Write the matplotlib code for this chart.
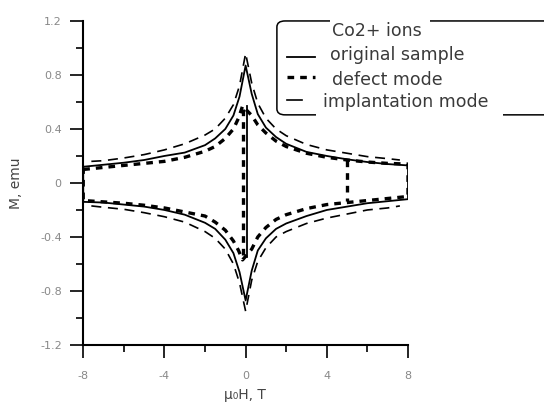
import numpy as np
import matplotlib
matplotlib.use("Agg")
import matplotlib.pyplot as plt
from matplotlib.patches import FancyBboxPatch, Rectangle
from matplotlib.lines import Line2D

# --- data (H in T, M in emu) ---
H = [-8, -7, -6, -5, -4, -3, -2, -1.5, -1, -0.6, -0.3, 0,
     0.3, 0.6, 1, 1.5, 2, 3, 4, 5, 6, 7, 8]

orig_up = [0.12, 0.135, 0.15, 0.17, 0.20, 0.225, 0.28, 0.33, 0.40, 0.50, 0.64, 0.87,
           0.66, 0.51, 0.41, 0.34, 0.29, 0.23, 0.20, 0.175, 0.155, 0.14, 0.13]
orig_lo = [-0.14, -0.145, -0.16, -0.175, -0.20, -0.235, -0.295, -0.34, -0.42, -0.52, -0.66, -0.87,
           -0.65, -0.50, -0.41, -0.34, -0.30, -0.245, -0.20, -0.175, -0.15, -0.135, -0.12]

defect_H = [-8, -7, -6, -5, -4, -3, -2, -1.5, -1, -0.6, -0.35, -0.15,
            0.3, 0.6, 1, 1.5, 2, 3, 4, 5, 6, 7, 8]
defect_up = [0.10, 0.115, 0.13, 0.145, 0.16, 0.19, 0.235, 0.27, 0.33, 0.40, 0.48, 0.57,
             0.50, 0.43, 0.37, 0.31, 0.27, 0.22, 0.19, 0.17, 0.155, 0.145, 0.14]
defect_lo = [-0.13, -0.14, -0.15, -0.165, -0.185, -0.215, -0.245, -0.29, -0.35, -0.43, -0.50, -0.57,
             -0.49, -0.40, -0.33, -0.27, -0.235, -0.19, -0.16, -0.145, -0.13, -0.115, -0.10]

impl_H = [-7.6, -7, -6, -5, -4, -3, -2, -1.5, -1, -0.6, -0.3, 0,
          0.3, 0.6, 1, 1.5, 2, 3, 4, 5, 6, 7, 7.6]
impl_up = [0.16, 0.165, 0.185, 0.21, 0.245, 0.29, 0.355, 0.40, 0.48, 0.58, 0.72, 0.96,
           0.74, 0.59, 0.48, 0.40, 0.35, 0.285, 0.245, 0.22, 0.195, 0.18, 0.17]
impl_lo = [-0.17, -0.18, -0.195, -0.22, -0.25, -0.29, -0.36, -0.41, -0.49, -0.60, -0.74, -0.95,
           -0.72, -0.58, -0.48, -0.40, -0.36, -0.30, -0.26, -0.23, -0.20, -0.185, -0.17]

# switching jumps (H, M_top, M_bottom)
orig_jump = (0.05, 0.57, -0.55)
defect_jumps = [(-0.15, 0.55, -0.57), (5.0, 0.17, -0.13)]

XTICKS = [-8, -4, 0, 4, 8]
YTICKS = [-1.2, -0.8, -0.4, 0, 0.4, 0.8, 1.2]
LABELS = ["original sample", "defect mode", "implantation mode"]

SOLID = dict(color="black", lw=1.3, ls="-")
DASH = dict(color="black", lw=2.4, ls=(0, (2.0, 1.8)))
LONG = dict(color="black", lw=1.2, ls=(0, (6, 4)))

fig = plt.figure(figsize=(5.44, 4.03), dpi=100)
ax = fig.add_axes([0.153, 0.144, 0.597, 0.804])

def loop(hx, up, lo, style, closed=True):
    hx = np.asarray(hx)
    if closed:
        xs = np.r_[hx, hx[::-1], hx[:1]]
        ys = np.r_[up, lo[::-1], up[:1]]
        ax.plot(xs, ys, **style)
    else:
        ax.plot(hx, up, **style)
        ax.plot(hx, lo, **style)

loop(H, orig_up, orig_lo, SOLID)
loop(defect_H, defect_up, defect_lo, DASH)
loop(impl_H, impl_up, impl_lo, LONG, closed=False)

ax.plot([orig_jump[0]] * 2, orig_jump[1:], **SOLID)
for h, top, bot in defect_jumps:
    ax.plot([h, h], [top, bot], **DASH)

ax.set_xlim(-8, 8)
ax.set_ylim(-1.2, 1.2)
ax.set_xticks(XTICKS)
ax.set_xticks([-6, -2, 2, 6], minor=True)
ax.set_yticks(YTICKS)
ax.set_yticks([-1.0, -0.6, -0.2, 0.2, 0.6, 1.0], minor=True)
ax.set_xticklabels([str(t) for t in XTICKS])
ax.set_yticklabels(["-1.2", "-0.8", "-0.4", "0", "0.4", "0.8", "1.2"])

for s in ["top", "right"]:
    ax.spines[s].set_visible(False)
for s in ["left", "bottom"]:
    ax.spines[s].set_linewidth(1.5)
ax.tick_params(which="major", direction="out", length=9.5, width=1.2,
               labelsize=8, labelcolor="#888888", pad=6)
ax.tick_params(axis="x", which="major", pad=9)
ax.tick_params(which="minor", direction="out", length=5, width=1.2)

fig.text(0.03, 0.545, "M, emu", rotation=90, ha="center", va="center",
         fontsize=10, color="#444444")
fig.text(0.451, 0.02, "μ₀H, T", ha="center", va="center",
         fontsize=10, color="#444444")

# legend box drawn by hand (rounded frame running off the right edge)
box = FancyBboxPatch((0.509, 0.715), 0.56, 0.233,
                     boxstyle="round,pad=0,rounding_size=0.015",
                     transform=fig.transFigure, fill=False, ec="black", lw=1.1,
                     clip_on=False)
fig.patches.append(box)
# gaps in the frame where the title and last entry sit on it
for x0, x1, yc in [(0.607, 0.790, 0.948), (0.580, 0.925, 0.715)]:
    fig.patches.append(Rectangle((x0, yc - 0.012), x1 - x0, 0.024,
                                 transform=fig.transFigure, fc="white", ec="none"))

txt = dict(fontsize=12.5, color="#3a3a3a", va="center", ha="left")
fig.text(0.611, 0.923, "Co2+ ions", **txt)
fig.text(0.606, 0.864, LABELS[0], **txt)
fig.text(0.610, 0.801, LABELS[1], **txt)
fig.text(0.593, 0.747, LABELS[2], **txt)

for y, style, x1 in [(0.859, SOLID, 0.579), (0.809, DASH, 0.579), (0.752, LONG, 0.555)]:
    fig.add_artist(Line2D([0.528, x1], [y, y], transform=fig.transFigure,
                          **{**style, "ls": "-" if style is LONG else style["ls"]}))

fig.savefig("out.png", dpi=100)
